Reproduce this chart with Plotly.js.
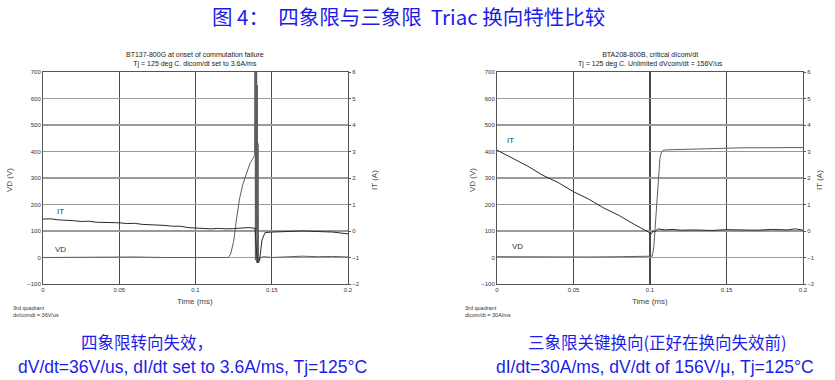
<!DOCTYPE html>
<html>
<head>
<meta charset="utf-8">
<script src="https://cdn.plot.ly/plotly-3.0.1.min.js"></script>
<style>html,body{margin:0;padding:0;background:#fff;}#chart{width:835px;height:380px;}</style>
</head>
<body>
<div id="chart"></div>
<script>
// ---------- DATA ----------
// Left chart (BT137-800G, 4th quadrant failure)
const leftItTime = [0,0.005,0.01,0.015,0.02,0.025,0.03,0.035,0.04,0.045,0.05,0.055,0.06,0.065,0.07,0.075,0.08,0.085,0.09,0.095,0.1,0.105,0.11,0.115,0.12,0.125,0.13,0.135,0.139,0.1405,0.1412,0.142,0.1436,0.1456,0.15,0.155,0.16,0.165,0.17,0.175,0.18,0.185,0.19,0.195,0.2];
const leftItAmp  = [0.45,0.46,0.42,0.41,0.39,0.36,0.37,0.33,0.33,0.31,0.31,0.28,0.29,0.25,0.24,0.22,0.21,0.18,0.18,0.13,0.11,0.09,0.08,0.10,0.08,0.09,0.11,0.13,0.10,-1.15,-1.2,-1.1,-0.34,-0.06,-0.04,-0.03,-0.02,0.0,0.0,-0.01,-0.01,-0.03,-0.04,-0.08,-0.11];
const leftVdTime = [0,0.02,0.04,0.06,0.08,0.1,0.115,0.1213,0.123,0.125,0.127,0.129,0.131,0.1325,0.134,0.1357,0.1377,0.1388,0.139,0.1393,0.1396,0.1399,0.1401,0.1403,0.1405,0.1408,0.141,0.1413,0.1416,0.1425,0.145,0.15,0.16,0.17,0.18,0.19,0.2];
const leftVdVolt = [0,1,0,2,0,1,0,0,12,60,150,225,275,300,330,355,375,385,900,-10,900,100,900,-20,650,-20,430,-10,-15,0,3,0,2,5,3,4,2];

// Right chart (BTA208-800B, critical dIcom/dt)
const rightItTime = [0,0.01,0.02,0.03,0.04,0.05,0.06,0.07,0.08,0.09,0.095,0.1,0.101,0.102,0.103,0.105,0.11,0.115,0.12,0.13,0.14,0.15,0.16,0.17,0.18,0.19,0.195,0.2];
const rightItAmp  = [3.05,2.76,2.45,2.10,1.83,1.48,1.20,0.86,0.58,0.24,0.10,-0.07,-0.10,0.00,-0.04,0.08,0.04,0.06,0.03,0.04,0.02,0.05,0.04,0.03,0.06,0.04,0.08,0.03];
const rightVdTime = [0,0.02,0.04,0.06,0.08,0.1,0.1015,0.1025,0.1035,0.1045,0.1055,0.1065,0.1075,0.1085,0.11,0.12,0.13,0.14,0.15,0.16,0.17,0.18,0.19,0.2];
const rightVdVolt = [3,2,3,2,3,3,5,40,130,230,320,375,398,404,406,408,410,412,413,414,414,415,416,415];

// Tick labels
const timeTicks = [0,0.05,0.1,0.15,0.2];
const timeTickText = ['0','0.05','0.1','0.15','0.2'];
const vdTicks = [-100,0,100,200,300,400,500,600,700];
const itTicks = [-2,-1,0,1,2,3,4,5,6];

// Texts
const mainTitle = '图 4：\u00a0\u00a0四象限与三象限\u00a0\u00a0Triac 换向特性比较';
const leftTitle = 'BT137-800G at onset of commutation failure<br>Tj = 125 deg C. dicom/dt set to 3.6A/ms';
const rightTitle = 'BTA208-800B, critical dIcom/dt<br>Tj = 125 deg C. Unlimited dVcom/dt = 156V/us';
const leftNote = '3rd quadrant<br>dv/comdt = 36V/us';
const rightNote = '3rd quadrant<br>dicom/dt = 30A/ms';
const leftCn = '四象限转向失效，';
const leftEn = 'dV/dt=36V/us, dI/dt set to 3.6A/ms, Tj=125°C';
const rightCn = '三象限关键换向(正好在换向失效前)';
const rightEn = 'dI/dt=30A/ms, dV/dt of 156V/μ, Tj=125°C';

// ---------- LAYOUT ----------
const W = 835, H = 380;
const px = x => x / W;
const py = y => 1 - y / H;
const blue = 'rgb(28,28,235)';
const sans = 'Arial, "Liberation Sans", sans-serif';
const cjk = '"Noto Sans CJK SC", sans-serif';
const tickFont = {family: sans, size: 6, color: '#333'};

const itColor = '#2a2a2a', vdColor = '#5e5e5e';
const traces = [
  {x: leftItTime, y: leftItAmp, xaxis: 'x', yaxis: 'y2', type: 'scatter', mode: 'lines', line: {color: itColor, width: 1}, hoverinfo: 'skip'},
  {x: leftVdTime, y: leftVdVolt, xaxis: 'x', yaxis: 'y', type: 'scatter', mode: 'lines', line: {color: vdColor, width: 1}, hoverinfo: 'skip'},
  {x: rightItTime, y: rightItAmp, xaxis: 'x2', yaxis: 'y4', type: 'scatter', mode: 'lines', line: {color: itColor, width: 1}, hoverinfo: 'skip'},
  {x: rightVdTime, y: rightVdVolt, xaxis: 'x2', yaxis: 'y3', type: 'scatter', mode: 'lines', line: {color: vdColor, width: 1}, hoverinfo: 'skip'}
];

function xAx(domain, anchor) {
  return {domain: domain, anchor: anchor, range: [0, 0.2], tickvals: timeTicks, ticktext: timeTickText,
    showgrid: true, gridcolor: '#4a4a4a', gridwidth: 1.2, zeroline: false,
    showline: true, linecolor: '#555', linewidth: 1, mirror: true, ticks: '', tickfont: tickFont, fixedrange: true};
}
function yAx(domain, anchor) {
  return {domain: domain, anchor: anchor, range: [-100, 700], tickvals: vdTicks,
    showgrid: true, gridcolor: '#9a9a9a', gridwidth: 1.5, zeroline: false,
    showline: true, linecolor: '#555', linewidth: 1, mirror: true, ticks: '', tickfont: tickFont, fixedrange: true};
}
function y2Ax(over, anchor) {
  return {overlaying: over, anchor: anchor, side: 'right', range: [-2, 6], tickvals: itTicks,
    showgrid: false, zeroline: false, showline: false, ticks: 'outside', ticklen: 2, tickcolor: '#555',
    tickfont: tickFont, fixedrange: true};
}

function note(text, x, y, size, color, family, opts) {
  return Object.assign({text: text, xref: 'paper', yref: 'paper', x: px(x), y: py(y),
    xanchor: 'center', yanchor: 'middle', showarrow: false,
    font: {family: family || sans, size: size, color: color || '#333'}}, opts || {});
}
function dataNote(text, xr, yr, x, y) {
  return {text: text, xref: xr, yref: yr, x: x, y: y, xanchor: 'center', yanchor: 'middle', showarrow: false,
    font: {family: sans, size: 8, color: '#333'}};
}

const yDom = [py(284), py(72)];
const layout = {
  width: W, height: H, margin: {l: 0, r: 0, t: 0, b: 0},
  paper_bgcolor: '#fff', plot_bgcolor: '#fff', showlegend: false,
  xaxis: xAx([px(43), px(348)], 'y'),
  yaxis: yAx(yDom, 'x'),
  yaxis2: y2Ax('y', 'x'),
  xaxis2: xAx([px(497), px(803)], 'y3'),
  yaxis3: yAx(yDom, 'x2'),
  yaxis4: y2Ax('y3', 'x2'),
  annotations: [
    note(mainTitle, 210, 16, 20.5, blue, cjk, {xanchor: 'left'}),
    note(leftTitle, 195, 59, 7, '#222'),
    note(rightTitle, 650, 59, 7, '#222'),
    note('VD (V)', 10, 180, 8, '#444', sans, {textangle: -90}),
    note('IT (A)', 375, 180, 8, '#444', sans, {textangle: -90}),
    note('VD (V)', 473, 180, 8, '#444', sans, {textangle: -90}),
    note('IT (A)', 820, 180, 8, '#444', sans, {textangle: -90}),
    note('Time (ms)', 195, 301, 8, '#444'),
    note('Time (ms)', 650, 301, 8, '#444'),
    note(leftNote, 11, 311, 5.5, '#333', sans, {xanchor: 'left', align: 'left'}),
    note(rightNote, 463, 311, 5.5, '#333', sans, {xanchor: 'left', align: 'left'}),
    dataNote('IT', 'x', 'y', 0.0115, 175),
    dataNote('VD', 'x', 'y', 0.0115, 32),
    dataNote('IT', 'x2', 'y3', 0.0085, 440),
    dataNote('VD', 'x2', 'y3', 0.0135, 43),
    note(leftCn, 79, 342, 16.5, blue, cjk, {xanchor: 'left'}),
    note(leftEn, 16, 367, 17.5, blue, sans, {xanchor: 'left'}),
    note(rightCn, 657, 342, 16.5, blue, cjk),
    note(rightEn, 655, 367, 17.5, blue, sans)
  ]
};

Plotly.newPlot('chart', traces, layout, {staticPlot: true, displayModeBar: false});
</script>
</body>
</html>
